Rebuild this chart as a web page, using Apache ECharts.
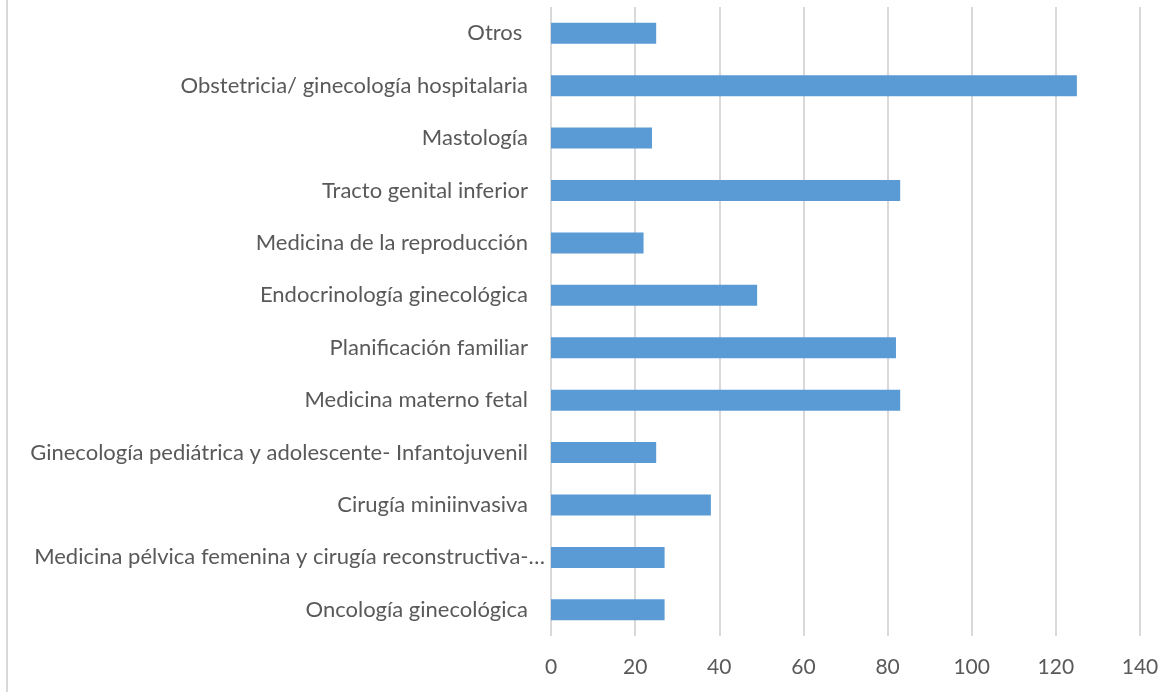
<!DOCTYPE html>
<html>
<head>
<meta charset="utf-8">
<script src="https://cdn.jsdelivr.net/npm/echarts@6/dist/echarts.min.js"></script>
<style>
  html, body { margin: 0; padding: 0; background: #fff; }
  #echarts { width: 1174px; height: 692px; }
  #frame { position: absolute; left: 6px; top: 0; width: 2px; height: 692px; background: #d9d9d9; }
</style>
</head>
<body>
<div id="frame"></div>
<div id="echarts"></div>
<script>
var categories = [
    'Oncología ginecológica',
    'Medicina pélvica femenina y cirugía reconstructiva-…',
    'Cirugía miniinvasiva',
    'Ginecología pediátrica y adolescente- Infantojuvenil',
    'Medicina materno fetal',
    'Planificación familiar',
    'Endocrinología ginecológica',
    'Medicina de la reproducción',
    'Tracto genital inferior',
    'Mastología',
    'Obstetricia/ ginecología hospitalaria',
    'Otros '
];
var values = [27, 27, 38, 25, 83, 82, 49, 22, 83, 24, 125, 25];

var myChart = echarts.init(document.getElementById('echarts'));

// the truncated label sticks out past the others, as in the original
var catData = categories.map(function (c) {
    if (c.indexOf('…') > -1) {
        return { value: c, textStyle: { padding: [0, -17, 0, 0] } };
    }
    return c;
});

var option = {
    animation: false,
    grid: {
        left: 551,
        right: 34,
        top: 7,
        bottom: 56
    },
    xAxis: {
        type: 'value',
        min: 0,
        max: 140,
        interval: 20,
        axisLine: { show: false },
        axisTick: { show: false },
        axisLabel: {
            color: '#595959',
            fontSize: 21,
            fontFamily: 'Lato',
            margin: 21
        },
        splitLine: {
            lineStyle: { color: '#d9d9d9', width: 2 }
        }
    },
    yAxis: {
        type: 'category',
        data: catData,
        axisLine: { show: false },
        axisTick: { show: false },
        axisLabel: {
            color: '#595959',
            fontSize: 22,
            fontFamily: 'Lato',
            margin: 23
        }
    },
    series: [{
        type: 'bar',
        data: values,
        barWidth: 21,
        itemStyle: { color: '#5b9bd5' }
    }]
};
myChart.setOption(option);
</script>
</body>
</html>
